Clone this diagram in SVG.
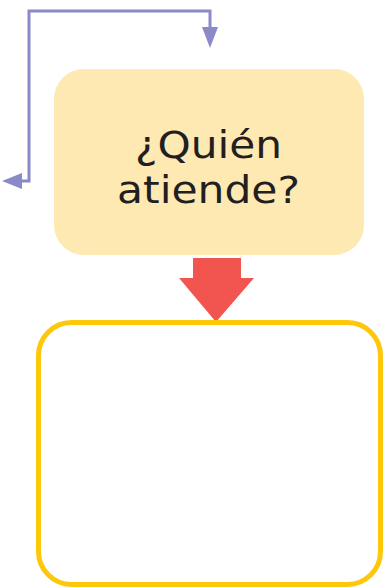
<svg xmlns="http://www.w3.org/2000/svg" width="389" height="588" viewBox="0 0 389 588">
<style>
.lbl{font-family:"DejaVu Sans","Noto Sans",sans-serif;font-size:37px;fill:#231f20}
.conn{fill:none;stroke:#8a8ac8;stroke-width:3}
.head{fill:#8a8ac8}
</style>
<rect width="389" height="588" fill="#ffffff"/>
<g id="connectors">
<path class="conn" d="M20,181 H29 V11 H210 V30"/>
<polygon class="head" points="202,27 218,27 210,48"/>
<polygon class="head" points="22,173 22,189 2,181"/>
<polygon fill="#f2554f" points="193,258 241,258 241,278 254,278 216,322 179,278 193,278"/>
</g>
<g id="node-quien">
<rect x="54" y="69" width="310" height="186" rx="30" fill="#fde9b1"/>
<text class="lbl" x="135" y="158" textLength="147" lengthAdjust="spacingAndGlyphs">¿Quién</text>
<text class="lbl" x="117" y="203" textLength="183" lengthAdjust="spacingAndGlyphs">atiende?</text>
</g>
<g id="node-empty">
<rect x="38.5" y="322.5" width="342" height="262" rx="33" fill="none" stroke="#fdc80a" stroke-width="5"/>
</g>
</svg>
